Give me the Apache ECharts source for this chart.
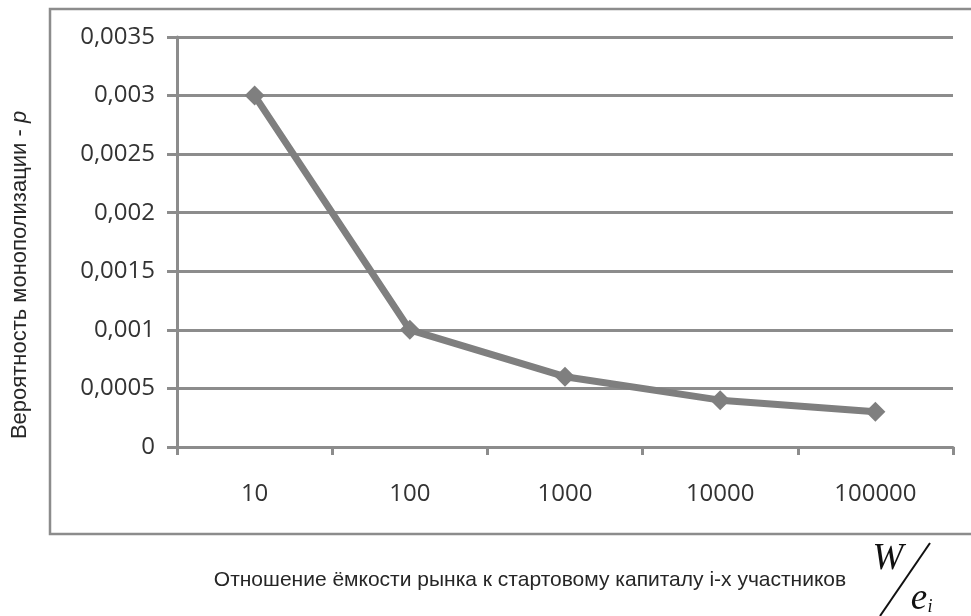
<!DOCTYPE html>
<html>
<head>
<meta charset="utf-8">
<script src="https://cdn.jsdelivr.net/npm/echarts@6/dist/echarts.min.js"></script>
<style>html,body{margin:0;padding:0;background:#fff;}#c{width:971px;height:616px;}</style>
</head>
<body>
<div id="c"></div>
<script>
const categories = ['10', '100', '1000', '10000', '100000'];
const probability = [0.003, 0.001, 0.0006, 0.0004, 0.0003];
const yMin = 0, yMax = 0.0035, yStep = 0.0005;
const yTitle = 'Вероятность монополизации - ';
const yTitleVar = 'p';
const xTitle = 'Отношение ёмкости рынка к стартовому капиталу i-х участников';

const chart = echarts.init(document.getElementById('c'));
const gridCol = '#8c8c8c';
chart.setOption({
  animation: false,
  backgroundColor: '#fff',
  grid: { left: 177, right: 18, top: 37, bottom: 169 },
  xAxis: {
    type: 'category',
    data: categories,
    boundaryGap: true,
    axisLine: { lineStyle: { color: gridCol, width: 3 } },
    axisTick: { show: true, length: 8, lineStyle: { color: gridCol, width: 3 } },
    axisLabel: { margin: 35, color: '#333', fontFamily: 'Open Sans', fontSize: 24 }
  },
  yAxis: {
    type: 'value',
    min: yMin, max: yMax, interval: yStep,
    axisLine: { show: true, lineStyle: { color: gridCol, width: 3 } },
    axisTick: { show: true, length: 10, lineStyle: { color: gridCol, width: 3 } },
    splitLine: { lineStyle: { color: gridCol, width: 3 } },
    axisLabel: {
      margin: 22, color: '#333', fontFamily: 'Open Sans', fontSize: 24,
      formatter: v => Number(v.toFixed(5)).toString().replace('.', ',')
    }
  },
  series: [{
    type: 'line',
    data: probability,
    symbol: 'diamond',
    symbolSize: 20,
    lineStyle: { color: '#7f7f7f', width: 7 },
    itemStyle: { color: '#7f7f7f' }
  }],
  graphic: [
    { type: 'rect', shape: { x: 50, y: 9, width: 930, height: 525 }, style: { fill: 'none', stroke: gridCol, lineWidth: 2.5 }, silent: true, z: -1 },
    { type: 'text', x: 20, y: 275, rotation: Math.PI / 2,
      style: { text: '{a|' + yTitle + '}{b|' + yTitleVar + '}', align: 'center', verticalAlign: 'middle',
        rich: { a: { fontFamily: 'Liberation Sans', fontSize: 22, fill: '#262626' }, b: { fontFamily: 'Liberation Sans', fontStyle: 'italic', fontSize: 22, fill: '#262626' } } } },
    { type: 'text', x: 530, y: 580,
      style: { text: xTitle, align: 'center', verticalAlign: 'middle', fontFamily: 'Liberation Sans', fontSize: 21, fill: '#262626' } },
    { type: 'text', x: 888, y: 559,
      style: { text: 'W', align: 'center', verticalAlign: 'middle', fontFamily: 'Liberation Serif', fontStyle: 'italic', fontSize: 37, fill: '#111' } },
    { type: 'line', shape: { x1: 930, y1: 543, x2: 880, y2: 616 }, style: { stroke: '#111', lineWidth: 2 } },
    { type: 'text', x: 919, y: 599,
      style: { text: 'e', align: 'center', verticalAlign: 'middle', fontFamily: 'Liberation Serif', fontStyle: 'italic', fontSize: 37, fill: '#111' } },
    { type: 'text', x: 930, y: 607,
      style: { text: 'i', align: 'center', verticalAlign: 'middle', fontFamily: 'Liberation Serif', fontStyle: 'italic', fontSize: 18, fill: '#111' } }
  ]
});
</script>
</body>
</html>
